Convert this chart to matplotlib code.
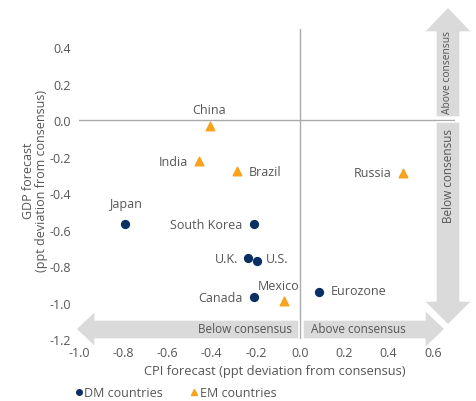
import matplotlib
matplotlib.use("Agg")
import matplotlib.pyplot as plt
from matplotlib.patches import Polygon
from matplotlib.transforms import Affine2D
from matplotlib.lines import Line2D

plt.rcParams['font.family'] = ['Open Sans', 'DejaVu Sans']

# ---- data ----
dm_names = ["Japan", "South Korea", "U.K.", "U.S.", "Canada", "Eurozone"]
dm_cpi = [-0.79, -0.21, -0.234, -0.193, -0.21, 0.087]
dm_gdp = [-0.57, -0.57, -0.756, -0.774, -0.97, -0.94]

em_names = ["China", "India", "Brazil", "Russia", "Mexico"]
em_cpi = [-0.407, -0.457, -0.284, 0.463, -0.071]
em_gdp = [-0.03, -0.226, -0.28, -0.287, -0.99]

x_ticks = [-1.0, -0.8, -0.6, -0.4, -0.2, 0.0, 0.2, 0.4, 0.6]
y_ticks = [-1.2, -1.0, -0.8, -0.6, -0.4, -0.2, 0.0, 0.2, 0.4]

# label placement (offset in points, ha, va)
label_pos = {
    "Japan": ((0, 10), "center", "bottom"),
    "South Korea": ((-8, 0), "right", "center"),
    "U.K.": ((-7, 0), "right", "center"),
    "U.S.": ((6, 2), "left", "center"),
    "Canada": ((-8, 0), "right", "center"),
    "Eurozone": ((8, 1), "left", "center"),
    "China": ((-1, 7), "center", "bottom"),
    "India": ((-8, 0), "right", "center"),
    "Brazil": ((8, 0), "left", "center"),
    "Russia": ((-8, 0), "right", "center"),
    "Mexico": ((-4, 6), "center", "bottom"),
}

W, H = 476, 402
DM_COL = "#0b2e63"
EM_COL = "#f9a21b"
TXT = "#555555"
ARROW = "#dadada"
FS = 9

fig = plt.figure(figsize=(W / 100, H / 100), dpi=100)
ax = fig.add_axes([79 / W, 1 - 340 / H, (455 - 79) / W, (340 - 30) / H])
ax.set_xlim(-1.0, 0.7)
ax.set_ylim(-1.2, 0.5)
for s in ax.spines.values():
    s.set_visible(False)
ax.set_xticks(x_ticks)
ax.set_yticks(y_ticks)
ax.set_xticklabels([f"{v:.1f}" for v in x_ticks])
ax.set_yticklabels([f"{v:.1f}" for v in y_ticks])
ax.tick_params(length=0, labelsize=FS, colors=TXT, pad=6)
ax.tick_params(axis='x', pad=5)

ax.axhline(0, color="#aaaaaa", lw=1, zorder=1)
ax.axvline(0, color="#aaaaaa", lw=1, zorder=1)

# pixel transform for annotation arrows
pt = Affine2D().scale(1 / W, -1 / H).translate(0, 1) + fig.transFigure

arrows = [
    [(76, 330), (95, 312), (95, 321), (299, 321), (299, 340), (95, 340), (95, 348)],
    [(303, 321), (425, 321), (425, 311), (445, 330), (425, 349), (425, 340), (303, 340)],
    [(448, 8), (472, 33), (460, 33), (460, 118), (436, 118), (436, 33), (424, 33)],
    [(436, 123), (460, 123), (460, 302), (472, 302), (448, 326), (424, 302), (436, 302)],
]
for poly in arrows:
    p = Polygon(poly, closed=True, transform=pt, facecolor=ARROW,
                edgecolor="white", lw=1.0, clip_on=False, zorder=2)
    fig.add_artist(p)

fig.text(245, 330, "Below consensus", transform=pt, ha="center", va="center",
         fontsize=8.5, color=TXT, zorder=3)
fig.text(358, 330, "Above consensus", transform=pt, ha="center", va="center",
         fontsize=8.5, color=TXT, zorder=3)
fig.text(448, 73, "Above consensus", transform=pt, ha="center", va="center",
         fontsize=7.4, color=TXT, rotation=90, zorder=3)
fig.text(448, 176, "Below consensus", transform=pt, ha="center", va="center",
         fontsize=8.5, color=TXT, rotation=90, zorder=3)

ax.scatter(dm_cpi, dm_gdp, s=32, marker="o", color=DM_COL, zorder=4, clip_on=False)
ax.scatter(em_cpi, em_gdp, s=38, marker="^", color=EM_COL, zorder=4, clip_on=False)

for names, xs, ys in [(dm_names, dm_cpi, dm_gdp), (em_names, em_cpi, em_gdp)]:
    for n, x, y in zip(names, xs, ys):
        off, ha, va = label_pos[n]
        ax.annotate(n, (x, y), xytext=off, textcoords="offset points",
                    ha=ha, va=va, fontsize=FS, color=TXT, zorder=5)

fig.text(35, 181, "GDP forecast\n(ppt deviation from consensus)", transform=pt,
         ha="center", va="center", rotation=90, fontsize=FS, color=TXT,
         linespacing=0.95)
fig.text(275, 372, "CPI forecast (ppt deviation from consensus)", transform=pt,
         ha="center", va="center", fontsize=9.3, color=TXT)

handles = [
    Line2D([], [], marker="o", ls="none", color=DM_COL, markersize=4),
    Line2D([], [], marker="^", ls="none", color=EM_COL, markersize=5),
]
leg = fig.legend(handles, ["DM countries", "EM countries"], loc="center left",
                 bbox_to_anchor=(75 / W, 1 - 394 / H), ncol=2, frameon=False,
                 fontsize=FS, handlelength=0.6, handletextpad=0.15,
                 columnspacing=2.2, borderpad=0, borderaxespad=0)
for t in leg.get_texts():
    t.set_color(TXT)

fig.savefig("out.png", dpi=100)
